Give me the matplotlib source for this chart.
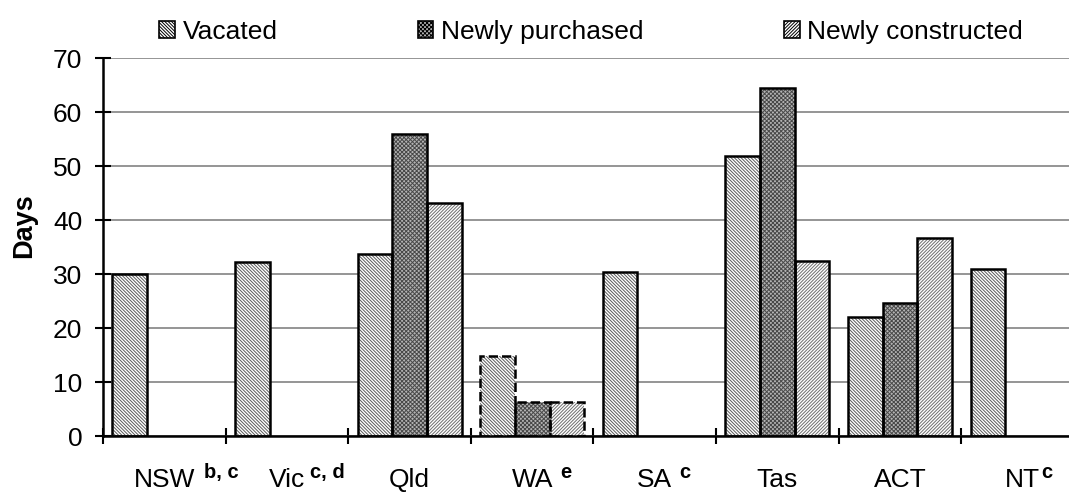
import numpy as np
import matplotlib.pyplot as plt
from matplotlib.patches import Patch
from matplotlib.transforms import blended_transform_factory

plt.rcParams['font.family'] = ['Liberation Sans', 'DejaVu Sans']
plt.rcParams['hatch.linewidth'] = 0.7

# jurisdictions and footnote markers
states = ['NSW', 'Vic', 'Qld', 'WA', 'SA', 'Tas', 'ACT', 'NT']
notes = ['b, c', 'c, d', '', 'e', 'c', '', '', 'c']

# days, NaN where no data
vacated = [30.0, 32.3, 33.7, 14.9, 30.3, 51.9, 22.0, 30.9]
purchased = [np.nan, np.nan, 55.9, 6.3, np.nan, 64.4, 24.7, np.nan]
constructed = [np.nan, np.nan, 43.2, 6.3, np.nan, 32.5, 36.6, np.nan]

series = [('Vacated', vacated, '#ffffff', '#5a5a5a', '\\\\\\\\\\\\\\\\\\\\'),
          ('Newly purchased', purchased, '#b4b4b4', '#484848', 'xxxxxxxx'),
          ('Newly constructed', constructed, '#ffffff', '#6e6e6e', '//////////')]

note_x = [0.82, 1.69, 0, 3.73, 4.70, 0, 0, 7.65]
dashed = ['WA']

fig = plt.figure(figsize=(10.69, 4.92), dpi=100)
ax = fig.add_axes([0.0964, 0.1138, 0.9175, 0.7683])

ind = np.arange(len(states)) + 0.5
width = 0.283

for k, (name, vals, fc, hc, hatch) in enumerate(series):
    x = ind + (k - 1) * width
    vals = np.array(vals)
    ax.bar(x, vals, width, color=fc, edgecolor=hc, hatch=hatch, linewidth=0, zorder=2)
    for i, s in enumerate(states):
        if np.isnan(vals[i]):
            continue
        ls = '--' if s in dashed else '-'
        ax.bar(x[i], vals[i], width, fill=False, edgecolor='black',
               linewidth=1.8, linestyle=ls, zorder=3)

# legend squares with black frames
leg_handles = [Patch(facecolor=s[2], edgecolor='black', hatch=s[4], linewidth=1.2)
               for s in series]

ax.set_xlim(0, len(states))
ax.set_ylim(0, 70)
ax.set_yticks(np.arange(0, 71, 10))
ax.set_xticks(np.arange(0, len(states)))
ax.set_xticklabels([])
ax.set_xticks(ind, minor=True)
ax.set_xticklabels(states, minor=True)
ax.tick_params(axis='x', which='minor', length=0, pad=23, labelsize=19)
ax.tick_params(axis='x', which='major', direction='inout', length=12, width=1.5)
ax.tick_params(axis='y', direction='inout', length=12, width=1.5, labelsize=19, pad=9)

ax.yaxis.grid(True, color='#787878', linewidth=1.1, zorder=0)
ax.set_axisbelow(True)
for sp in ['top', 'right']:
    ax.spines[sp].set_visible(False)
ax.spines['left'].set_linewidth(1.8)
ax.spines['bottom'].set_linewidth(1.8)
ax.spines['bottom'].set_zorder(4)

ax.set_ylabel('Days', fontsize=19.5, fontweight='bold')
ax.yaxis.set_label_coords(-0.067, 0.556)

trans = blended_transform_factory(ax.transData, ax.transAxes)
for i, n in enumerate(notes):
    if n:
        ax.text(note_x[i], -0.072, n, transform=trans, fontsize=14.5, fontweight='bold',
                ha='left', va='top')

fig.legend(leg_handles, [s[0] for s in series], loc='center left',
           bbox_to_anchor=(159 / 1069, 1 - 32 / 492), ncol=3, frameon=False,
           fontsize=19, columnspacing=5.3, handlelength=0.6, handleheight=0.6,
           handletextpad=0.3, borderpad=0, borderaxespad=0)

plt.savefig('out.png', dpi=100)
